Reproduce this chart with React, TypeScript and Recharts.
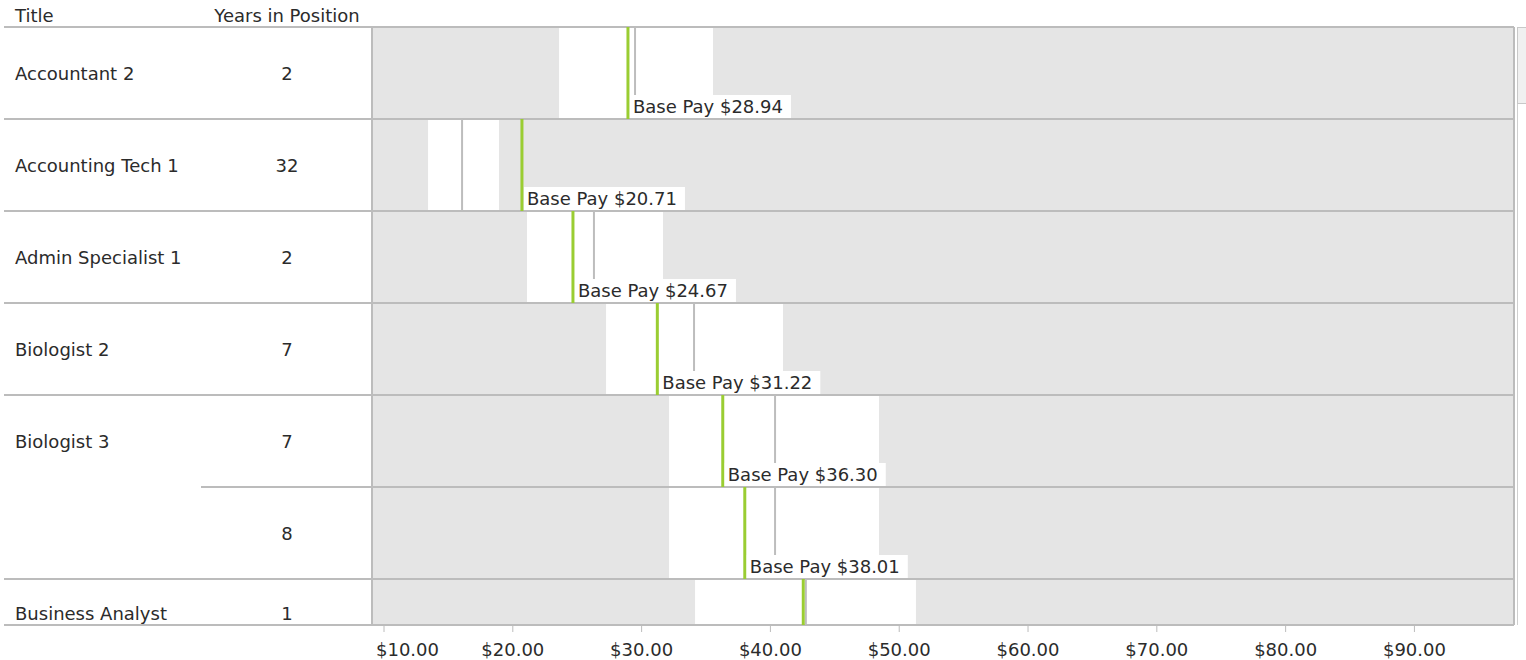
import React from 'react';
import {
  ComposedChart,
  XAxis,
  YAxis,
  Scatter,
  ReferenceArea,
  ReferenceLine,
  CartesianGrid,
} from 'recharts';

// ---------- data ----------
const titles = [
  'Accountant 2',
  'Accounting Tech 1',
  'Admin Specialist 1',
  'Biologist 2',
  'Biologist 3',
  'Biologist 3',
  'Business Analyst',
];
const yearsInPosition = [2, 32, 2, 7, 7, 8, 1];
const rangeMin = [23.59, 13.42, 21.1, 27.24, 32.13, 32.13, 34.15];
const rangeMid = [29.49, 16.06, 26.3, 34.07, 40.36, 40.36, 42.75];
const rangeMax = [35.54, 18.93, 31.66, 40.98, 48.43, 48.43, 51.3];
const basePay = [28.94, 20.71, 24.67, 31.22, 36.3, 38.01, 42.55];
const xTicks = [10, 20, 30, 40, 50, 60, 70, 80, 90];
const headerTitle = 'Title';
const headerYears = 'Years in Position';

// ---------- layout ----------
const W = 1526;
const H = 660;
const TOP = 27;
const YAXIS_W = 372;
const RIGHT = 12;
const XAXIS_H = 35;
const PLOT_H = H - TOP - XAXIS_H;
const Y_MAX = 6.5;
const ROW_H = PLOT_H / Y_MAX;
const PLOT_BOTTOM = TOP + PLOT_H;
const X_MIN = 9.068;
const X_MAX = 97.73;
const LAST_LABEL_SHIFT = 0.13;

const FONT = '"DejaVu Sans", Verdana, sans-serif';
const FS = 18;
const TEXT = '#2b2b2b';
const LINE = '#bcbcbc';
const BG = '#e5e5e5';
const GREEN = '#9acd32';
const MIDLINE = '#bdbdbd';

const TABLE_LEFT = 4;
const SUBROW_LEFT = 201;
const TITLE_X = 15;
const YEARS_X = 287;
const TICK_LABEL_W = 62;
const TICK_LABEL_PAD = 4;

const rows = titles.map((t, i) => ({
  i,
  title: t,
  years: yearsInPosition[i],
  min: rangeMin[i],
  mid: rangeMid[i],
  max: rangeMax[i],
  base: basePay[i],
}));

const midData = rows.map((r) => ({ x: r.mid, y: Math.min(r.i + 0.5, Y_MAX) }));
const baseData = rows.map((r) => ({
  x: r.base,
  y: Math.min(r.i + 0.5, Y_MAX),
  label: `Base Pay $${r.base.toFixed(2)}`,
}));

type TickInfo = {
  value: number;
  kind: 'boundary' | 'label';
  row: number;
};

const yTickInfo: TickInfo[] = [];
rows.forEach((r) => {
  yTickInfo.push({ value: r.i, kind: 'boundary', row: r.i });
  yTickInfo.push({
    value: Math.min(r.i + 0.5, Y_MAX - LAST_LABEL_SHIFT),
    kind: 'label',
    row: r.i,
  });
});
yTickInfo.push({ value: Y_MAX, kind: 'boundary', row: rows.length });
const yTicks = yTickInfo.map((t) => t.value);

const YTick = (props: any) => {
  const { x, y, payload } = props;
  const v = payload.value;
  const info = yTickInfo.find((t) => Math.abs(t.value - v) < 1e-6);
  if (!info) return null;
  if (info.kind === 'boundary') {
    const i = info.row;
    const sameTitle = i > 0 && i < rows.length && titles[i] === titles[i - 1];
    return (
      <g>
        <line
          x1={sameTitle ? SUBROW_LEFT : TABLE_LEFT}
          x2={x}
          y1={y}
          y2={y}
          stroke={LINE}
          strokeWidth={2}
        />
        {i === 0 && (
          <g>
            <text x={TITLE_X} y={y - 5} fontFamily={FONT} fontSize={FS} fill={TEXT}>
              {headerTitle}
            </text>
            <text
              x={YEARS_X}
              y={y - 5}
              fontFamily={FONT}
              fontSize={FS}
              fill={TEXT}
              textAnchor="middle"
            >
              {headerYears}
            </text>
          </g>
        )}
      </g>
    );
  }
  const i = info.row;
  const showTitle = i === 0 || titles[i] !== titles[i - 1];
  return (
    <g>
      {showTitle && (
        <text x={TITLE_X} y={y + 7} fontFamily={FONT} fontSize={FS} fill={TEXT}>
          {titles[i]}
        </text>
      )}
      <text
        x={YEARS_X}
        y={y + 7}
        fontFamily={FONT}
        fontSize={FS}
        fill={TEXT}
        textAnchor="middle"
      >
        {yearsInPosition[i]}
      </text>
    </g>
  );
};

const fmt = (v: number) => `$${v.toFixed(2)}`;

const XTick = (props: any) => {
  const { x, y, payload } = props;
  const minLeft = YAXIS_W + TICK_LABEL_PAD;
  const clamp = x - TICK_LABEL_W / 2 < minLeft;
  return (
    <text
      x={clamp ? minLeft : x}
      y={y}
      dy="0.71em"
      textAnchor={clamp ? 'start' : 'middle'}
      fontFamily={FONT}
      fontSize={FS}
      fill={TEXT}
    >
      {fmt(payload.value)}
    </text>
  );
};

const MidShape = (props: any) => {
  const { cx, cy } = props;
  if (cx == null || cy == null) return null;
  const y1 = cy - ROW_H / 2;
  const y2 = Math.min(cy + ROW_H / 2, PLOT_BOTTOM);
  return <line x1={cx} x2={cx} y1={y1} y2={y2} stroke={MIDLINE} strokeWidth={2} />;
};

const BaseShape = (props: any) => {
  const { cx, cy, payload } = props;
  if (cx == null || cy == null) return null;
  const top = cy - ROW_H / 2;
  const bottom = cy + ROW_H / 2;
  const y2 = Math.min(bottom, PLOT_BOTTOM);
  const showLabel = bottom <= PLOT_BOTTOM + 0.5;
  return (
    <g>
      <line x1={cx} x2={cx} y1={top} y2={y2} stroke={GREEN} strokeWidth={3} />
      {showLabel && (
        <g>
          <rect x={cx + 2} y={bottom - 24} width={161} height={23} fill="#ffffff" />
          <text
            x={cx + 5}
            y={bottom - 6}
            fontFamily={FONT}
            fontSize={FS}
            fill={TEXT}
          >
            {payload.label}
          </text>
        </g>
      )}
    </g>
  );
};

export default function App() {
  return (
    <div style={{ position: 'absolute', left: 0, top: 0, width: W, height: H, background: '#fff' }}>
      <ComposedChart
        width={W}
        height={H}
        margin={{ top: TOP, right: RIGHT, bottom: 0, left: 0 }}
      >
        <CartesianGrid fill={BG} horizontal={false} vertical={false} />
        <XAxis
          type="number"
          dataKey="x"
          domain={[X_MIN, X_MAX]}
          allowDataOverflow
          ticks={xTicks}
          interval={0}
          height={XAXIS_H}
          tickSize={7}
          tickMargin={11}
          axisLine={{ stroke: LINE, strokeWidth: 2 }}
          tickLine={{ stroke: LINE, strokeWidth: 1 }}
          tick={<XTick />}
        />
        <YAxis
          type="number"
          dataKey="y"
          domain={[0, Y_MAX]}
          allowDataOverflow
          reversed
          ticks={yTicks}
          interval={0}
          width={YAXIS_W}
          tickSize={0}
          tickMargin={0}
          tickLine={false}
          axisLine={{ stroke: LINE, strokeWidth: 2 }}
          tick={<YTick />}
        />
        {rows.map((r) => (
          <ReferenceArea
            key={`range-${r.i}`}
            x1={r.min}
            x2={r.max}
            y1={r.i}
            y2={Math.min(r.i + 1, Y_MAX)}
            fill="#ffffff"
            fillOpacity={1}
            stroke="none"
            ifOverflow="hidden"
          />
        ))}
        {rows.map((r) => (
          <ReferenceLine
            key={`sep-${r.i}`}
            y={r.i}
            stroke={LINE}
            strokeWidth={2}
          />
        ))}
        <ReferenceLine x={X_MAX} stroke={LINE} strokeWidth={2} />
        <Scatter
          data={midData}
          shape={<MidShape />}
          isAnimationActive={false}
        />
        <Scatter
          data={baseData}
          shape={<BaseShape />}
          isAnimationActive={false}
        />
      </ComposedChart>
      <div
        style={{
          position: 'absolute',
          left: 1517,
          top: TOP,
          width: 0,
          height: PLOT_H,
          borderLeft: '1px solid #cfcfcf',
        }}
      />
      <div
        style={{
          position: 'absolute',
          left: 1517,
          top: TOP,
          width: 14,
          height: 77,
          background: '#f0f0f0',
          border: '1px solid #c8c8c8',
          boxSizing: 'border-box',
        }}
      />
    </div>
  );
}
